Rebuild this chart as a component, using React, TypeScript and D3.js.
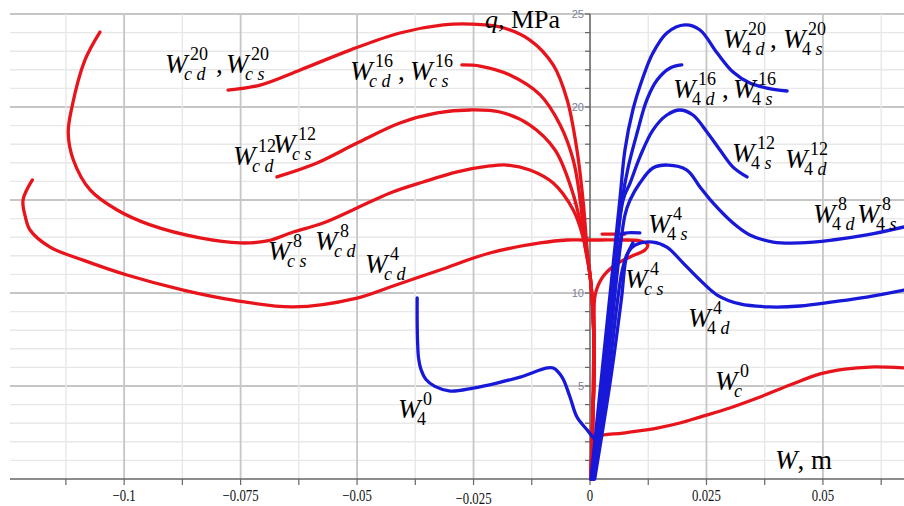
import React from 'react';
import * as d3 from 'd3';

type P = [number, number];

// ---- data (W in m, q in MPa) ----
const xTicks = [-0.1, -0.075, -0.05, -0.025, 0, 0.025, 0.05];
const xTickLabels = ['−0.1', '−0.075', '−0.05', '−0.025', '0', '0.025', '0.05'];
const yTicks = [5, 10, 15, 20, 25];

const redLower: P[] = [[0.0, 10.97], [0.0006, 9.09], [0.0009, 6.4], [0.0006, 3.17], [0.0002, 0]];

const red20: P[] = [[-0.0777, 20.91], [-0.0708, 21.18], [-0.0622, 21.99], [-0.0515, 23.06], [-0.0408, 23.98], [-0.0315, 24.41], [-0.0258, 24.46], [-0.0193, 24.3], [-0.0129, 23.6], [-0.0079, 22.26], [-0.0049, 20.38], [-0.0028, 17.69], [-0.0015, 15.0], [-0.0006, 12.31]];
const red16: P[] = [[-0.0275, 22.26], [-0.0236, 22.2], [-0.0172, 21.72], [-0.0107, 20.65], [-0.0064, 19.03], [-0.0036, 17.15], [-0.0021, 15.0], [-0.0011, 12.58]];
const red12: P[] = [[-0.0672, 16.24], [-0.0586, 16.99], [-0.05, 18.06], [-0.0408, 19.14], [-0.0328, 19.68], [-0.0258, 19.84], [-0.0193, 19.73], [-0.0129, 19.03], [-0.0075, 17.69], [-0.0039, 15.54], [-0.0017, 13.39]];
const red8: P[] = [[-0.1052, 24.03], [-0.1084, 22.53], [-0.1112, 20.0], [-0.112, 18.6], [-0.1109, 17.15], [-0.1073, 15.54], [-0.1015, 14.46], [-0.0944, 13.66], [-0.0837, 12.96], [-0.0751, 12.69], [-0.0693, 12.8], [-0.0637, 13.28], [-0.0573, 13.76], [-0.05, 14.57], [-0.0429, 15.38], [-0.0358, 15.97], [-0.0285, 16.51], [-0.0215, 16.83], [-0.0178, 16.88], [-0.0129, 16.61], [-0.0079, 15.91], [-0.0036, 14.46], [-0.0015, 13.01]];
const red4: P[] = [[-0.1197, 16.08], [-0.1217, 15.0], [-0.1212, 14.09], [-0.1202, 13.39], [-0.1159, 12.47], [-0.1088, 11.77], [-0.0994, 10.97], [-0.0873, 10.16], [-0.0766, 9.62], [-0.0637, 9.25], [-0.05, 9.73], [-0.0429, 10.32], [-0.0322, 11.24], [-0.0215, 12.15], [-0.0107, 12.69], [-0.0049, 12.85], [-0.0015, 12.85], [0.0021, 12.85], [0.0064, 12.85], [0.0107, 12.8], [0.0124, 12.58], [0.0118, 12.31], [0.0086, 11.94], [0.0054, 11.51], [0.0026, 10.81], [0.0011, 9.89], [0.0009, 8.01], [0.0006, 4.25], [0.0002, 0]];
const redStub: P[] = [[0.0026, 13.17], [0.0075, 13.17]];
const redC0: P[] = [[0.0002, 0], [0.0004, 1.02], [0.0009, 1.83], [0.0017, 2.26], [0.0071, 2.47], [0.0144, 2.74], [0.0193, 3.01], [0.0236, 3.33], [0.03, 3.82], [0.0365, 4.41], [0.0429, 5.05], [0.0494, 5.65], [0.0547, 5.91], [0.0601, 6.02], [0.0674, 5.97]];

const blue20: P[] = [[0.0002, 0], [0.0033, 7.5], [0.0064, 15.0], [0.0075, 17.69], [0.0092, 19.84], [0.0114, 21.61], [0.0135, 22.9], [0.0165, 23.98], [0.0204, 24.41], [0.0236, 24.14], [0.0273, 22.9], [0.0307, 21.88], [0.0343, 21.29], [0.038, 21.02], [0.0423, 20.86]];
const blue16: P[] = [[0.0003, 0], [0.0036, 7.5], [0.0069, 15.0], [0.0082, 16.77], [0.0101, 18.6], [0.0122, 20.38], [0.0144, 21.45], [0.0172, 22.1], [0.0197, 22.26]];
const blue12: P[] = [[0.0004, 0], [0.0038, 7.5], [0.0071, 15.0], [0.0086, 15.91], [0.0107, 17.31], [0.0135, 18.76], [0.0165, 19.57], [0.0193, 19.84], [0.0221, 19.57], [0.0251, 18.66], [0.0279, 17.69], [0.0307, 16.77], [0.0337, 16.24]];
const blue8: P[] = [[0.0006, 0], [0.0041, 7.1], [0.0075, 14.19], [0.0086, 15.0], [0.0107, 15.91], [0.0135, 16.72], [0.0167, 16.88], [0.0208, 16.61], [0.0236, 15.7], [0.0264, 14.84], [0.0307, 13.76], [0.0343, 13.12], [0.0393, 12.74], [0.0451, 12.69], [0.0521, 12.85], [0.0594, 13.12], [0.0674, 13.55]];
const blue4: P[] = [[0.0009, 0], [0.0042, 6.0], [0.0069, 11.2], [0.0082, 12.2], [0.0097, 12.58], [0.0135, 12.74], [0.0165, 12.47], [0.02, 11.61], [0.0236, 10.7], [0.0273, 9.89], [0.0322, 9.41], [0.0386, 9.25], [0.0451, 9.3], [0.0521, 9.52], [0.0594, 9.78], [0.0674, 10.16]];
const blue4s: P[] = [[0.0007, 0], [0.0038, 6.4], [0.0062, 12.2], [0.0066, 12.85], [0.0069, 13.17], [0.0107, 13.23]];
const blue4b: P[] = [[0.0010, 0], [0.0045, 5.5], [0.0068, 9.8], [0.0078, 11.9], [0.0092, 12.7]];
const blue0: P[] = [[-0.0371, 9.73], [-0.0371, 8.39], [-0.037, 7.3], [-0.0368, 6.5], [-0.0363, 5.9], [-0.0352, 5.35], [-0.0333, 4.98], [-0.03, 4.73], [-0.0251, 4.89], [-0.02, 5.16], [-0.015, 5.48], [-0.0092, 5.97], [-0.0079, 5.97], [-0.006, 5.48], [-0.0043, 4.41], [-0.0028, 3.33], [-0.0006, 2.63], [0.0011, 2.1]];

type TermDef = { x: number; y: number; sup: string; sub: string };
type LabelGroup = { terms: TermDef[]; commas: [number, number][] };
const labelGroups: LabelGroup[] = [
  { terms: [{ x: 165, y: 73, sup: '20', sub: 'c d' }, { x: 226, y: 73, sup: '20', sub: 'c s' }], commas: [[216, 73]] },
  { terms: [{ x: 350, y: 80, sup: '16', sub: 'c d' }, { x: 410, y: 80, sup: '16', sub: 'c s' }], commas: [[398, 80]] },
  { terms: [{ x: 233, y: 165, sup: '12', sub: 'c d' }, { x: 273, y: 153, sup: '12', sub: 'c s' }], commas: [] },
  { terms: [{ x: 268, y: 260, sup: '8', sub: 'c s' }, { x: 315, y: 250, sup: '8', sub: 'c d' }], commas: [] },
  { terms: [{ x: 365, y: 273, sup: '4', sub: 'c d' }], commas: [] },
  { terms: [{ x: 398, y: 418, sup: '0', sub: '4' }], commas: [] },
  { terms: [{ x: 715, y: 390, sup: '0', sub: 'c' }], commas: [] },
  { terms: [{ x: 723, y: 48, sup: '20', sub: '4 d' }, { x: 783, y: 48, sup: '20', sub: '4 s' }], commas: [[770, 48]] },
  { terms: [{ x: 673, y: 98, sup: '16', sub: '4 d' }, { x: 733, y: 98, sup: '16', sub: '4 s' }], commas: [[722, 98]] },
  { terms: [{ x: 732, y: 162, sup: '12', sub: '4 s' }, { x: 785, y: 168, sup: '12', sub: '4 d' }], commas: [] },
  { terms: [{ x: 813, y: 223, sup: '8', sub: '4 d' }, { x: 857, y: 223, sup: '8', sub: '4 s' }], commas: [] },
  { terms: [{ x: 648, y: 233, sup: '4', sub: '4 s' }], commas: [] },
  { terms: [{ x: 625, y: 288, sup: '4', sub: 'c s' }], commas: [] },
  { terms: [{ x: 688, y: 327, sup: '4', sub: '4 d' }], commas: [] },
];

const SERIF = "'Liberation Serif', 'Times New Roman', serif";
const RED = '#e8141c';
const BLUE = '#1818d8';

function Label({ g }: { g: LabelGroup }) {
  return (
    <text fontFamily={SERIF} fill="#000" style={{ whiteSpace: 'pre' }}>
      {g.terms.map((t, i) => (
        <React.Fragment key={i}>
          <tspan x={t.x} y={t.y} fontSize={27} fontStyle="italic">W</tspan>
          <tspan x={t.x + 25} y={t.y - 13} fontSize={18}>{t.sup}</tspan>
          <tspan x={t.x + 19} y={t.y + 7} fontSize={18}>
            {t.sub.split('').map((c, j) => (
              <tspan key={j} fontStyle={/[a-z]/.test(c) ? 'italic' : 'normal'}>{c}</tspan>
            ))}
          </tspan>
        </React.Fragment>
      ))}
      {g.commas.map((c, i) => (
        <tspan key={'c' + i} x={c[0]} y={c[1]} fontSize={27}>,</tspan>
      ))}
    </text>
  );
}

export default function App() {
  const W = 904, H = 506;
  const x = d3.scaleLinear().domain([-0.1245, 0.0674]).range([10, 904]);
  const y = d3.scaleLinear().domain([0, 25]).range([479, 14]);
  const line = d3.line<P>().x(d => x(d[0])).y(d => y(d[1])).curve(d3.curveCatmullRom.alpha(0.5));

  const vGrid = d3.range(-9, 6).map(k => k * 0.0125);
  const hGrid = d3.range(1, 26);

  const reds: P[][] = [
    [...red20, ...redLower],
    [...red16, ...redLower],
    [...red12, ...redLower],
    [...red8, ...redLower],
    red4,
    redStub,
    redC0,
  ];
  const blues: P[][] = [blue20, blue16, blue12, blue8, blue4, blue4s, blue4b, blue0];

  return (
    <div style={{ position: 'absolute', left: 0, top: 0 }}>
      <svg width={W} height={H} style={{ display: 'block', background: '#fff' }}>
        <rect width={W} height={H} fill="#fff" />
        {/* grid */}
        {hGrid.map(v => (
          <line key={'h' + v} x1={10} x2={904} y1={y(v)} y2={y(v)}
            stroke={v % 5 === 0 ? '#c6c6c6' : '#e8e8e8'} strokeWidth={v % 5 === 0 ? 1.8 : 1.4} />
        ))}
        {vGrid.filter(v => Math.abs(v) > 1e-9).map((v, i) => {
          const major = Math.abs(Math.round(v / 0.0125)) % 2 === 0;
          return (
            <line key={'v' + i} x1={x(v)} x2={x(v)} y1={y(25)} y2={y(0)}
              stroke={major ? '#c6c6c6' : '#e8e8e8'} strokeWidth={major ? 1.8 : 1.4} />
          );
        })}
        {/* y tick labels */}
        {yTicks.map(v => (
          <text key={'yl' + v} x={584} y={y(v) + 4} fontSize={11} textAnchor="end"
            fontFamily="'Liberation Sans', Arial, sans-serif" fill="#7c809a">{v}</text>
        ))}
        {/* axes */}
        <line x1={10} x2={904} y1={y(0)} y2={y(0)} stroke="#666" strokeWidth={1.6} />
        <line x1={x(0)} x2={x(0)} y1={y(25)} y2={y(0)} stroke="#666" strokeWidth={1.6} />
        {vGrid.map((v, i) => (
          <line key={'xt' + i} x1={x(v)} x2={x(v)} y1={y(0)} y2={y(0) + 6} stroke="#666" strokeWidth={1.2} />
        ))}
        {hGrid.map(v => (
          <line key={'yt' + v} x1={x(0) - 5} x2={x(0)} y1={y(v)} y2={y(v)} stroke="#666" strokeWidth={1.2} />
        ))}
        {xTicks.map((v, i) => (
          <text key={'xl' + i} transform={`translate(${x(v)},${v === -0.025 ? 504 : 501}) scale(0.8,1)`}
            fontSize={16} textAnchor="middle" fontFamily={SERIF} fill="#111">{xTickLabels[i]}</text>
        ))}
        {/* curves */}
        {reds.map((d, i) => (
          <path key={'r' + i} d={line(d) || ''} fill="none" stroke={RED} strokeWidth={3.3} strokeLinecap="round" strokeLinejoin="round" />
        ))}
        {blues.map((d, i) => (
          <path key={'b' + i} d={line(d) || ''} fill="none" stroke={BLUE} strokeWidth={3.3} strokeLinecap="round" strokeLinejoin="round" />
        ))}
        {/* labels */}
        {labelGroups.map((g, i) => <Label key={'g' + i} g={g} />)}
        <text x={485} y={28} fontSize={26} fontFamily={SERIF}>
          <tspan fontStyle="italic">q</tspan>, MPa
        </text>
        <text x={775} y={469} fontSize={27} fontFamily={SERIF}>
          <tspan fontStyle="italic">W</tspan>, m
        </text>
      </svg>
    </div>
  );
}
